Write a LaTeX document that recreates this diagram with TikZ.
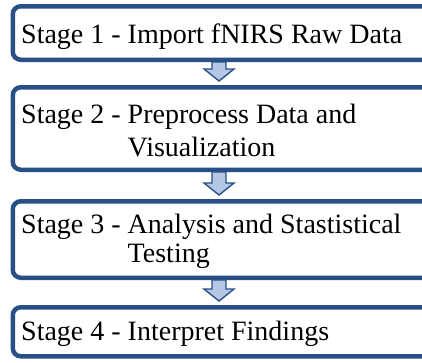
\documentclass[tikz,border=0pt]{standalone}
\usepackage{fontspec}
\setmainfont{LiberationSerif-Regular.ttf}
\usetikzlibrary{calc}
\definecolor{boxblue}{RGB}{40,80,134}
\definecolor{arrowfill}{RGB}{180,199,231}
\tikzset{
  stagebox/.style={draw=boxblue, line width=4.5pt, rounded corners=8pt, rectangle,
    minimum width=439.5pt, anchor=west, inner sep=0pt},
  stagetext/.style={anchor=base west, inner sep=0pt, font=\fontsize{28}{33}\selectfont},
  flowarrow/.style={draw=boxblue, fill=arrowfill, line width=1.4pt, line join=miter}
}
\newcommand{\flowarr}[2]{%
  \draw[flowarrow]
    ($(#1.south -| ax)+(-7,0)$) --
    ($(#2.north -| ax)+(-7,-16)$) --
    ($(#2.north -| ax)+(-15,-16)$) --
    ($(#2.north -| ax)+(0,-4)$) --
    ($(#2.north -| ax)+(15,-16)$) --
    ($(#2.north -| ax)+(7,-16)$) --
    ($(#1.south -| ax)+(7,0)$) -- cycle;}
\begin{document}
\begin{tikzpicture}[x=1pt,y=-1pt]
  \useasboundingbox (0,0) rectangle (422,362);
  \clip (0,0) rectangle (422,362);
  \coordinate (ax) at (219,0);
  \node[stagebox, minimum height=53.5pt] (b1) at (10.5,33) {};
  \node[stagebox, minimum height=82.5pt] (b2) at (10.5,128.5) {};
  \node[stagebox, minimum height=76.5pt] (b3) at (10.5,239.5) {};
  \node[stagebox, minimum height=49pt] (b4) at (10.5,331.75) {};
  \node[stagetext] (t1) at (21,43) {Stage 1 - Import fNIRS Raw Data};
  \node[stagetext] (t2) at (21,123) {\begin{tabular}[t]{@{}l@{}l@{}}\mbox{Stage 2 - } & Preprocess Data and\\ & Visualization\end{tabular}};
  \node[stagetext] (t3) at (21,233.5) {\begin{tabular}[t]{@{}l@{}l@{}}\mbox{Stage 3 - } & Analysis and Stastistical\\[-4.5pt] & Testing\end{tabular}};
  \node[stagetext] (t4) at (21,340) {Stage 4 - Interpret Findings};
  \flowarr{b1}{b2}
  \flowarr{b2}{b3}
  \flowarr{b3}{b4}
\end{tikzpicture}
\end{document}
